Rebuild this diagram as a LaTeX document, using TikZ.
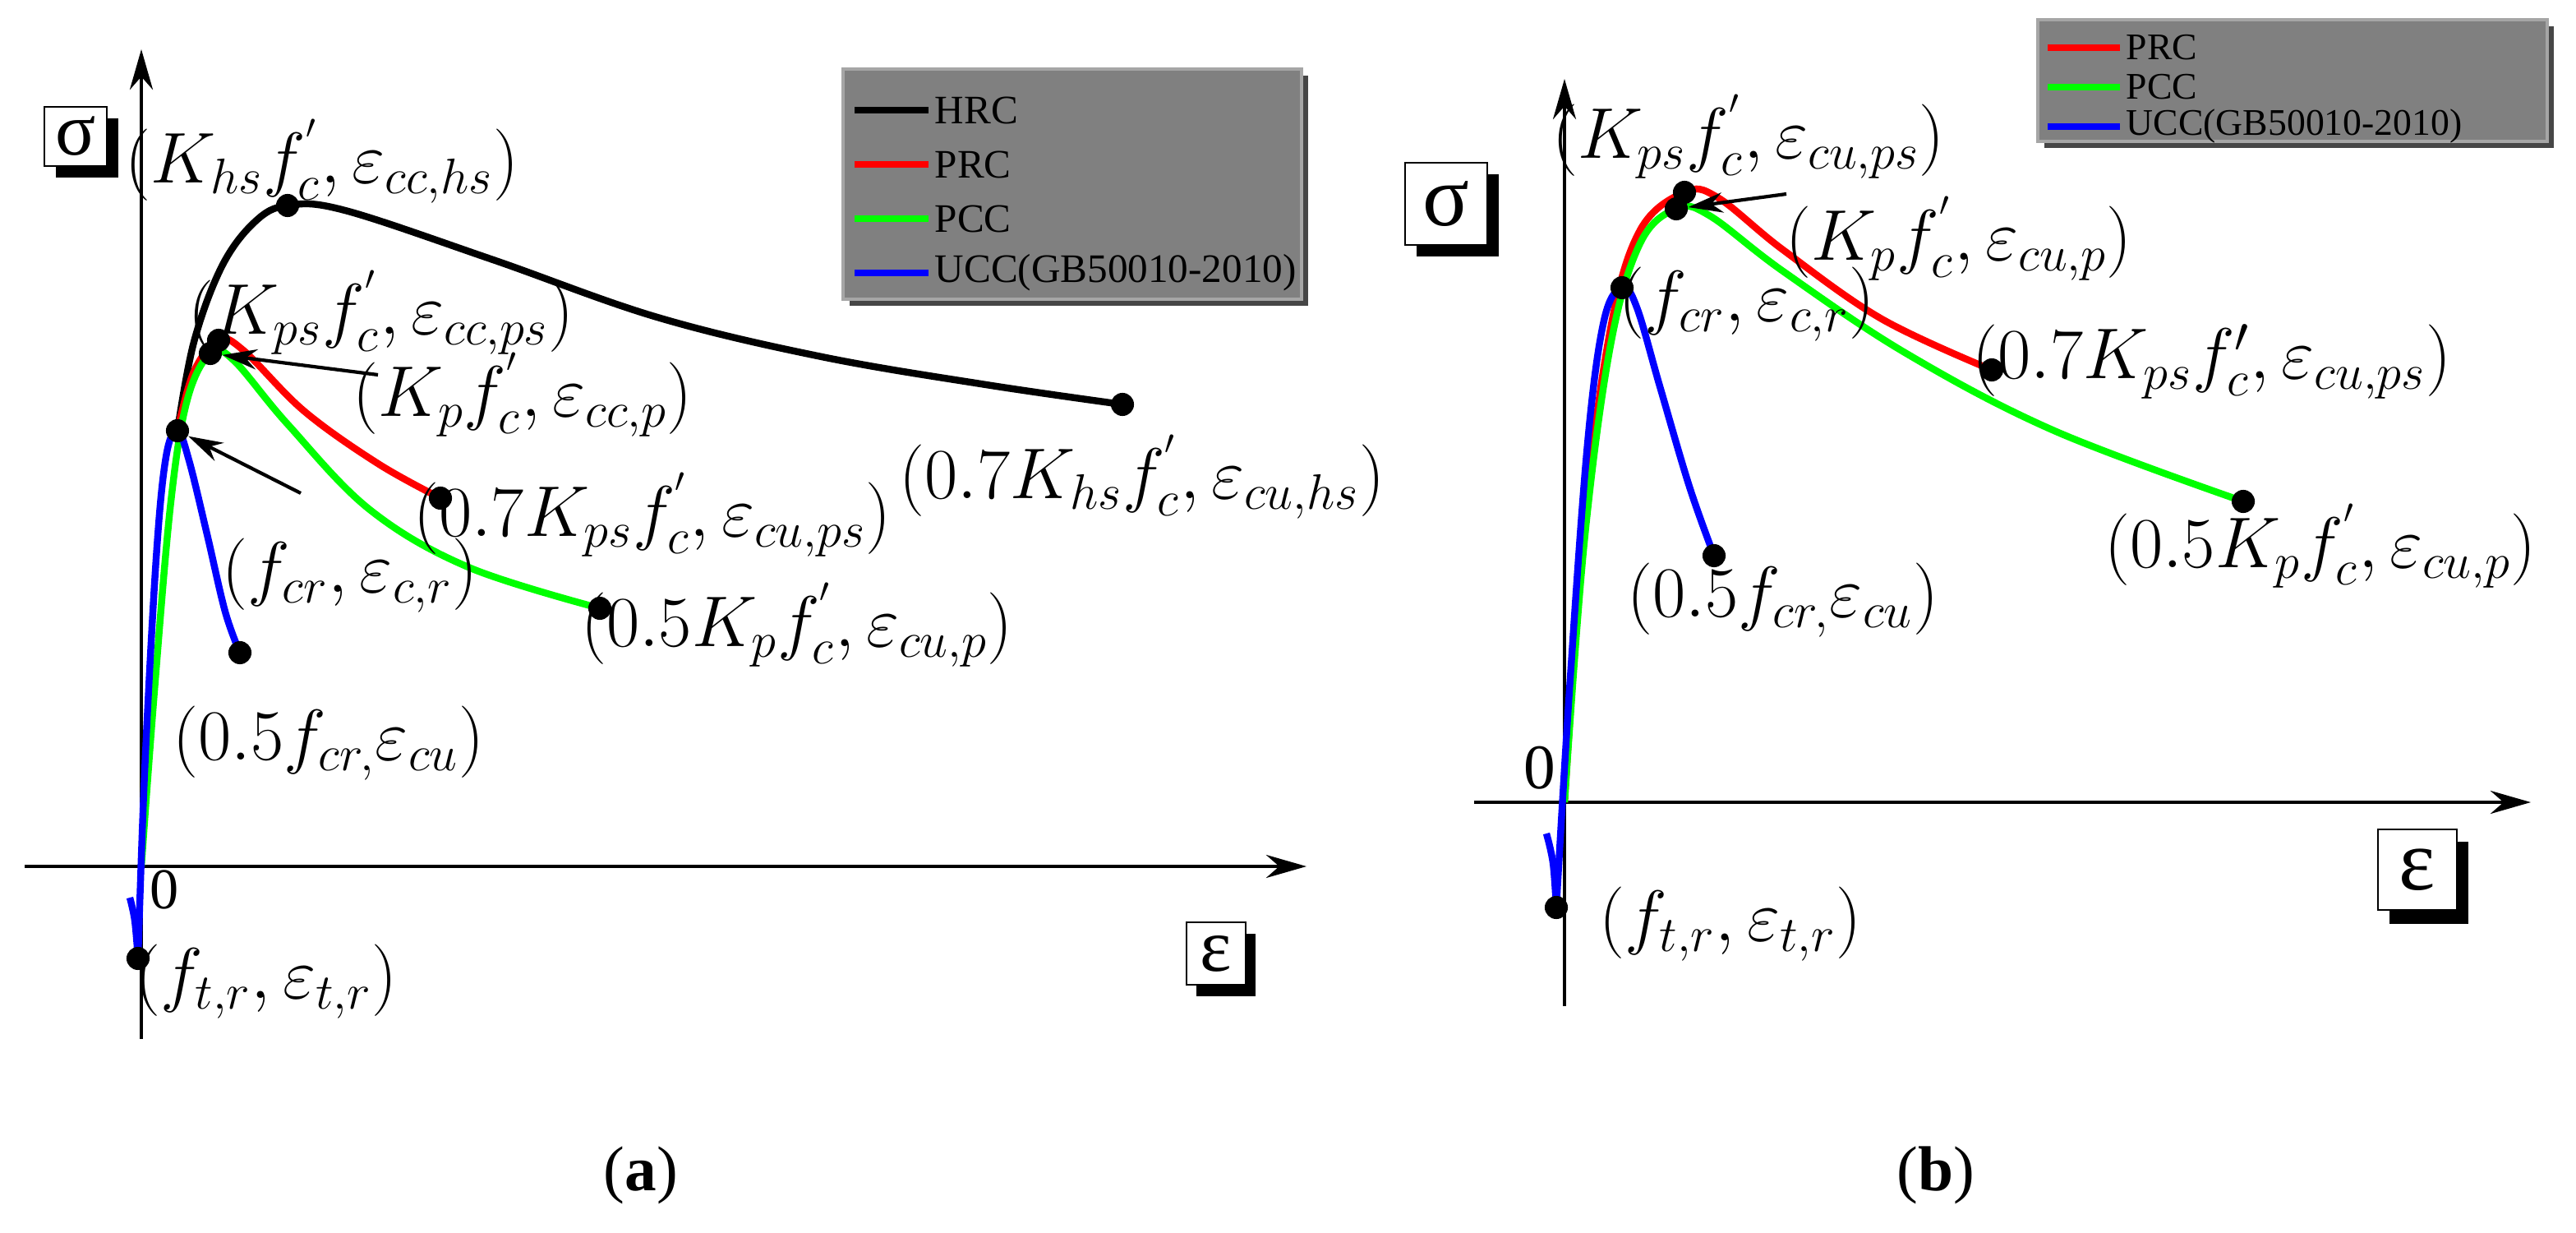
\documentclass[tikz,border=0pt]{standalone}
\usepackage{fontspec}
\setmainfont{Liberation Serif}
\usetikzlibrary{arrows.meta,positioning}
\definecolor{legbg}{RGB}{128,128,128}
\definecolor{legdk}{RGB}{70,70,70}
\tikzset{
  axis/.style={line width=1.1pt,-{Stealth[length=14pt,width=8pt]}},
  curve/.style={line width=2.4pt,smooth,tension=0.6},
  pt/.style={circle,fill=black,inner sep=0pt,minimum size=8pt},
  lab/.style={font=\fontsize{23}{27}\selectfont,inner sep=1pt},
  symbox/.style={draw,fill=white,line width=0.8pt},
  leg/.style={font=\fontsize{14}{16}\selectfont,anchor=west,inner sep=1pt},
  pointer/.style={line width=1.2pt,-{Stealth[length=12pt,width=7pt]}}
}
\begin{document}
\begin{tikzpicture}[x=0.02cm,y=-0.02cm]
\useasboundingbox (0,0) rectangle (1567.5,750);
% ---------------- panel (a)
\draw[axis] (15,527) -- (795,527);
\draw[axis] (86,632) -- (86,30);
\fill (34,72) rectangle (72,108);
\node[symbox,minimum width=0.76cm,minimum height=0.72cm,font=\fontsize{26}{30}\selectfont] (siga) at (46,83) {σ};
\fill (728,568) rectangle (764,606);
\node[symbox,minimum width=0.72cm,minimum height=0.76cm,font=\fontsize{26}{30}\selectfont] (epsa) at (740,580) {ε};
% legend (a)
\fill[legdk] (517,46) rectangle (796,186);
\draw[fill=legbg,draw=gray!70,line width=1pt] (513,42) rectangle (792,182);
\foreach \c/\t [count=\i] in {black/HRC,red/PRC,green/PCC,blue/UCC(GB50010-2010)}
  \draw[\c,line width=2.4pt] (520,{33*\i+34}) -- (565,{33*\i+34}) node[leg,text=black] {\t};
% curves (a)
\draw[curve,black] plot coordinates {(108,262) (118,208) (135,162) (155,135) (175,125) (210,128) (300,158) (400,193) (500,217) (600,234) (683,246)};
\draw[curve,red] plot coordinates {(108,262) (118,226) (133,207) (148,213) (185,250) (230,282) (268,303)};
\draw[curve,green] plot coordinates {(86,527) (94,420) (104,305) (114,243) (128,215) (142,219) (175,258) (225,310) (285,345) (365,370)};
\draw[curve,blue] plot coordinates {(79,546) (82,560) (84,583)};
\draw[curve,blue] plot coordinates {(84,583) (88,470) (95,340) (101,278) (108,262) (115,280) (126,325) (137,372) (146,397)};
\node[pt] (hsa) at (175,125) {};
\node[pt] (psa) at (133,207) {};
\node[pt] (pa) at (128,215) {};
\node[pt] (cra) at (108,262) {};
\node[pt] (hsua) at (683,246) {};
\node[pt] (psua) at (268,303) {};
\node[pt] (pua) at (365,370) {};
\node[pt] (crua) at (146,397) {};
\node[pt] (ta) at (84,583) {};
\node[lab] (lhsa) at (196,98) {$(K_{hs}f^{'}_{c},\varepsilon_{cc,hs})$};
\node[lab] (lpsa) at (232,190) {$(K_{ps}f^{'}_{c},\varepsilon_{cc,ps})$};
\node[lab] (lpa) at (318,240) {$(K_{p}f^{'}_{c},\varepsilon_{cc,p})$};
\node[lab] (lcra) at (213,350) {$(f_{cr},\varepsilon_{c,r})$};
\node[lab] (lhsua) at (695,290) {$(0.7K_{hs}f^{'}_{c},\varepsilon_{cu,hs})$};
\node[lab] (lpsua) at (397,313) {$(0.7K_{ps}f^{'}_{c},\varepsilon_{cu,ps})$};
\node[lab] (lpua) at (485,380) {$(0.5K_{p}f^{'}_{c},\varepsilon_{cu,p})$};
\node[lab] (lcrua) at (200,452) {$(0.5f_{cr,}\varepsilon_{cu})$};
\node[lab] (lta) at (162,597) {$(f_{t,r},\varepsilon_{t,r})$};
\node[lab,font=\fontsize{20}{24}\selectfont] (za) at (100,541) {0};
\coordinate (pa0) at (230,228);
\coordinate (cra0) at (183,300);
\draw[pointer] (pa0) -- (pa);
\draw[pointer] (cra0) -- (cra);
\node[font=\fontsize{22}{26}\selectfont] (capa) at (390,715) {(\textbf{a})};
% ---------------- panel (b)
\draw[axis] (897,488) -- (1540,488);
\draw[axis] (952,612) -- (952,48);
\fill (862,106) rectangle (912,156);
\node[symbox,minimum width=1cm,minimum height=1cm,font=\fontsize{30}{34}\selectfont] (sigb) at (880,124) {σ};
\fill (1454,512) rectangle (1502,562);
\node[symbox,minimum width=0.96cm,minimum height=0.98cm,font=\fontsize{30}{34}\selectfont] (epsb) at (1471,529) {ε};
% legend (b)
\fill[legdk] (1244,16) rectangle (1554,90);
\draw[fill=legbg,draw=gray!70,line width=1pt] (1240,12) rectangle (1550,86);
\foreach \c/\t [count=\i] in {red/PRC,green/PCC,blue/UCC(GB50010-2010)}
  \draw[\c,line width=2.4pt] (1246,{24*\i+5}) -- (1290,{24*\i+5}) node[leg,font=\fontsize{13}{15}\selectfont,text=black] {\t};
% curves (b)
\draw[curve,red] plot coordinates {(952,488) (964,320) (980,200) (998,140) (1025,117) (1045,120) (1085,152) (1145,194) (1212,225)};
\draw[curve,green] plot coordinates {(952,488) (964,330) (980,210) (998,148) (1020,127) (1040,131) (1085,165) (1160,215) (1250,262) (1365,305)};
\draw[curve,blue] plot coordinates {(941,507) (945,525) (947,552)};
\draw[curve,blue] plot coordinates {(947,552) (955,420) (966,270) (976,195) (987,175) (996,187) (1010,235) (1028,296) (1043,338)};
\node[pt] (psb) at (1025,117) {};
\node[pt] (pb) at (1020,127) {};
\node[pt] (crb) at (987,175) {};
\node[pt] (psub) at (1212,225) {};
\node[pt] (pub) at (1365,305) {};
\node[pt] (crub) at (1043,338) {};
\node[pt] (tb) at (947,552) {};
\node[lab] (lpsb) at (1064,83) {$(K_{ps}f^{'}_{c},\varepsilon_{cu,ps})$};
\node[lab] (lpb) at (1192,145) {$(K_{p}f^{'}_{c},\varepsilon_{cu,p})$};
\node[lab] (lcrb) at (1063,185) {$(f_{cr},\varepsilon_{c,r})$};
\node[lab] (lpsub) at (1346,220) {$(0.7K_{ps}f^{\prime}_{c},\varepsilon_{cu,ps})$};
\node[lab] (lpub) at (1412,332) {$(0.5K_{p}f^{'}_{c},\varepsilon_{cu,p})$};
\node[lab] (lcrub) at (1085,365) {$(0.5f_{cr,}\varepsilon_{cu})$};
\node[lab] (ltb) at (1053,562) {$(f_{t,r},\varepsilon_{t,r})$};
\node[lab,font=\fontsize{22}{26}\selectfont] (zb) at (937,467) {0};
\coordinate (pb0) at (1087,118);
\draw[pointer] (pb0) -- (pb);
\node[font=\fontsize{22}{26}\selectfont] (capb) at (1178,715) {(\textbf{b})};
\end{tikzpicture}
\end{document}
